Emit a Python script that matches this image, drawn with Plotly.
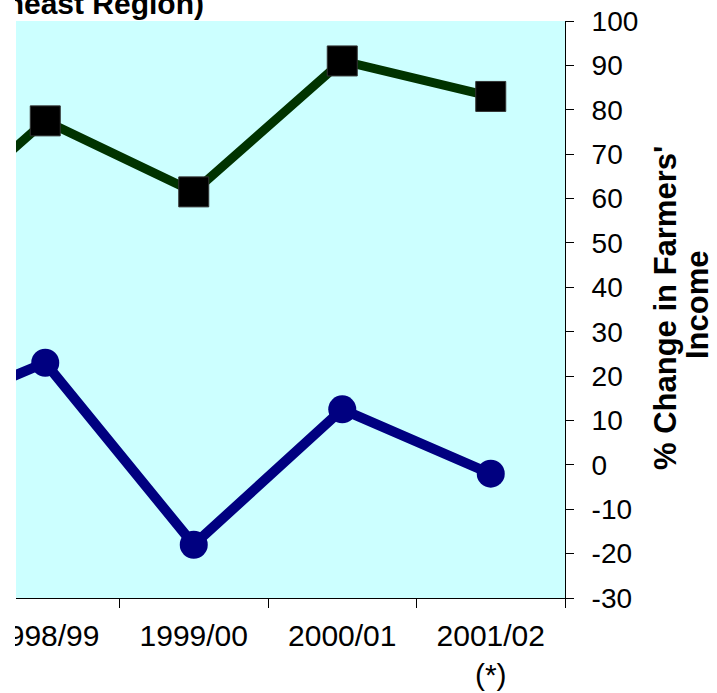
import plotly.graph_objects as go

# Crop years (the first one only shows as the line entering from the left)
seasons = ["1997/98", "1998/99", "1999/00", "2000/01", "2001/02<br>(*)"]
# % change in farmers' income
income_upper = [48, 77.5, 61.5, 91, 83]
income_lower = [9, 23, -18, 12.5, -2]

y_ticks = list(range(-30, 101, 10))
y_tick_text = [str(v) for v in y_ticks]

W, H = 717, 693
L, R, T, B = 16, 152, 21, 95
plot_w = W - L - R
plot_h = H - T - B

x_right = len(seasons) - 0.5
x_left = x_right - plot_w / 148.5
x_range = [x_left, x_right]

FONT = "Arial, Liberation Sans, sans-serif"


def px_x(px):
    return (px - L) / plot_w


def px_y(py):
    return (plot_h + T - py) / plot_h


fig = go.Figure()

fig.add_trace(go.Scatter(
    x=seasons, y=income_upper, mode="lines+markers",
    line=dict(color="#003300", width=9),
    marker=dict(symbol="square", size=30, color="black",
                line=dict(color="#333333", width=1)),
    showlegend=False, cliponaxis=True,
))
fig.add_trace(go.Scatter(
    x=seasons, y=income_lower, mode="lines+markers",
    line=dict(color="#000080", width=10),
    marker=dict(symbol="circle", size=28, color="#000080"),
    showlegend=False, cliponaxis=True,
))

y_font = dict(family=FONT, size=28, color="black")
x_font = dict(family=FONT, size=30, color="black")

fig.update_layout(
    width=W, height=H,
    margin=dict(l=L, r=R, t=T, b=B, pad=0, autoexpand=False),
    paper_bgcolor="white",
    plot_bgcolor="#CCFFFF",
    font=y_font,
    xaxis=dict(
        type="category", range=x_range, automargin=False,
        tickson="boundaries", ticks="outside", ticklen=9, tickcolor="black",
        showline=True, linecolor="black", linewidth=1,
        showgrid=False, zeroline=False, tickfont=x_font,
        ticklabelstandoff=11,
    ),
    xaxis2=dict(
        overlaying="x", anchor="y", side="bottom", type="linear",
        range=x_range, tickvals=[i + 0.5 for i in range(len(seasons))],
        ticks="inside", ticklen=9, tickcolor="black", automargin=False,
        showticklabels=False, showgrid=False, zeroline=False, showline=False,
    ),
    yaxis=dict(
        side="right", range=[-30, 100], tickvals=y_ticks, ticktext=y_tick_text,
        ticks="outside", ticklen=8, tickcolor="black", automargin=False,
        showline=True, linecolor="black", linewidth=1,
        showgrid=False, zeroline=False, tickfont=y_font,
        ticklabelstandoff=12,
    ),
    yaxis2=dict(
        overlaying="y", side="right", anchor="x", range=[-30, 100],
        tickvals=y_ticks, ticks="inside", ticklen=10, tickcolor="black",
        automargin=False,
        showticklabels=False, showgrid=False, zeroline=False, showline=False,
    ),
)

# Chart title (runs off the left edge)
fig.add_annotation(
    text="<b>(Northeast Region)</b>", xref="paper", yref="paper",
    x=px_x(206), y=px_y(3),
    xanchor="right", yanchor="middle", showarrow=False,
    font=dict(family=FONT, size=30, color="black"),
)

# Right-hand axis title, one annotation per line
fig.add_annotation(
    text="<b>% Change in Farmers'</b>", xref="paper", yref="paper",
    x=px_x(665), y=px_y(308),
    xanchor="center", yanchor="middle", textangle=-90, showarrow=False,
    font=dict(family=FONT, size=31, color="black"),
)
fig.add_annotation(
    text="<b>Income</b>", xref="paper", yref="paper",
    x=px_x(697), y=px_y(305),
    xanchor="center", yanchor="middle", textangle=-90, showarrow=False,
    font=dict(family=FONT, size=31, color="black"),
)

# White strip along the left edge of the page
fig.add_annotation(
    text=" ", xref="paper", yref="paper",
    x=px_x(0), y=px_y(0),
    xanchor="left", yanchor="top", showarrow=False,
    width=15, height=H, bgcolor="white", borderpad=0, borderwidth=0,
)

fig.write_html("out.html")
